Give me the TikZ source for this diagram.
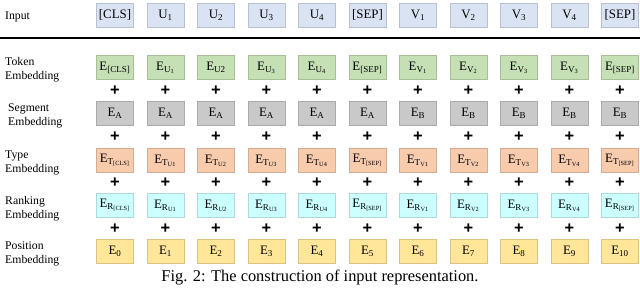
\documentclass[tikz,border=0pt]{standalone}
\usepackage{fontspec}
\setmainfont{Liberation Serif}
\newfontfamily\plusfont{Liberation Sans}
\usepackage{xcolor}
\usepackage{tikz}
\usetikzlibrary{calc}

\definecolor{inputblue}{HTML}{DAE3F3}
\definecolor{tokengreen}{HTML}{C5E0B4}
\definecolor{segmentgray}{HTML}{C9C9C9}
\definecolor{typeorange}{HTML}{F8CBAD}
\definecolor{rankcyan}{HTML}{CCFFFF}
\definecolor{posyellow}{HTML}{FFE699}

\tikzset{
    embbox/.style={draw=#1!85!black, line width=0.2pt, fill=#1,
        minimum width=1.11cm, minimum height=0.72cm, inner sep=0pt,
        font=\fontsize{11}{13}\selectfont},
    rowlabel/.style={anchor=west, align=left, inner sep=0pt,
        font=\fontsize{10}{12}\selectfont},
    plussign/.style={inner sep=0pt, font=\plusfont\bfseries\fontsize{14}{14}\selectfont},
}

\begin{document}
\begin{tikzpicture}[x=0.03cm, y=-0.03cm]

        \useasboundingbox (0,0) rectangle (640,289);

        %% ── Ligne d'entrée ────────────────────────────────────────────────
        \node[rowlabel] (lblinput) at (5,17) {Input};
        \foreach \lab [count=\i from 0] in
            {{[CLS]}, U\textsubscript{1}, U\textsubscript{2}, U\textsubscript{3},
             U\textsubscript{4}, {[SEP]}, V\textsubscript{1}, V\textsubscript{2},
             V\textsubscript{3}, V\textsubscript{4}, {[SEP]}}
            \node[embbox=inputblue] (in\i) at ({115+50.5*\i},15) {\lab};

        \draw[line width=2.5pt] (0,38) coordinate (ruleL) -- (640,38) coordinate (ruleR);

        %% ── Token embedding ───────────────────────────────────────────────
        \node[rowlabel] (lbltok) at (5,70) {Token\\Embedding};
        \foreach \lab [count=\i from 0] in
            {{[CLS]}, U\textsubscript{1}, U2, U\textsubscript{3}, U\textsubscript{4},
             {[SEP]}, V\textsubscript{1}, V\textsubscript{2}, V\textsubscript{3},
             V\textsubscript{3}, {[SEP]}}
            \node[embbox=tokengreen] (tok\i) at ({115+50.5*\i},67.5)
                {E\textsubscript{\lab}};

        %% ── Segment embedding ─────────────────────────────────────────────
        \node[rowlabel] (lblseg) at (8,116) {Segment\\Embedding};
        \foreach \lab [count=\i from 0] in {A,A,A,A,A,A,B,B,B,B,B}
            \node[embbox=segmentgray] (seg\i) at ({115+50.5*\i},113.5)
                {E\textsubscript{\lab}};

        %% ── Type embedding ────────────────────────────────────────────────
        \node[rowlabel] (lbltyp) at (5,162.5) {Type\\Embedding};
        \foreach \lab [count=\i from 0] in
            {{[CLS]}, U1, U2, U3, U4, {[SEP]}, V1, V2, V3, V4, {[SEP]}}
            \node[embbox=typeorange] (typ\i) at ({115+50.5*\i},160.5)
                {E\textsubscript{T\textsubscript{\lab}}};

        %% ── Ranking embedding ─────────────────────────────────────────────
        \node[rowlabel] (lblrank) at (5,208.5) {Ranking\\Embedding};
        \foreach \lab [count=\i from 0] in
            {{[CLS]}, U1, U2, U3, U4, {[SEP]}, V1, V2, V3, V4, {[SEP]}}
            \node[embbox=rankcyan] (rank\i) at ({115+50.5*\i},205.5)
                {E\textsubscript{R\textsubscript{\lab}}};

        %% ── Position embedding ────────────────────────────────────────────
        \node[rowlabel] (lblpos) at (5,254) {Position\\Embedding};
        \foreach \i in {0,...,10}
            \node[embbox=posyellow] (pos\i) at ({115+50.5*\i},251)
                {E\textsubscript{\i}};

        %% ── Signes + ──────────────────────────────────────────────────────
        \foreach \i in {0,...,10} {
            \node[plussign] (plusa\i) at ($(tok\i)!0.5!(seg\i)$) {+};
            \node[plussign] (plusb\i) at ($(seg\i)!0.5!(typ\i)$) {+};
            \node[plussign] (plusc\i) at ($(typ\i)!0.5!(rank\i)$) {+};
            \node[plussign] (plusd\i) at ($(rank\i)!0.5!(pos\i)$) {+};
        }

        %% ── Légende ───────────────────────────────────────────────────────
        \node[font=\fontsize{14}{16}\selectfont] (caption) at (320,277)
            {Fig. 2: The construction of input representation.};

    \end{tikzpicture}
\end{document}
